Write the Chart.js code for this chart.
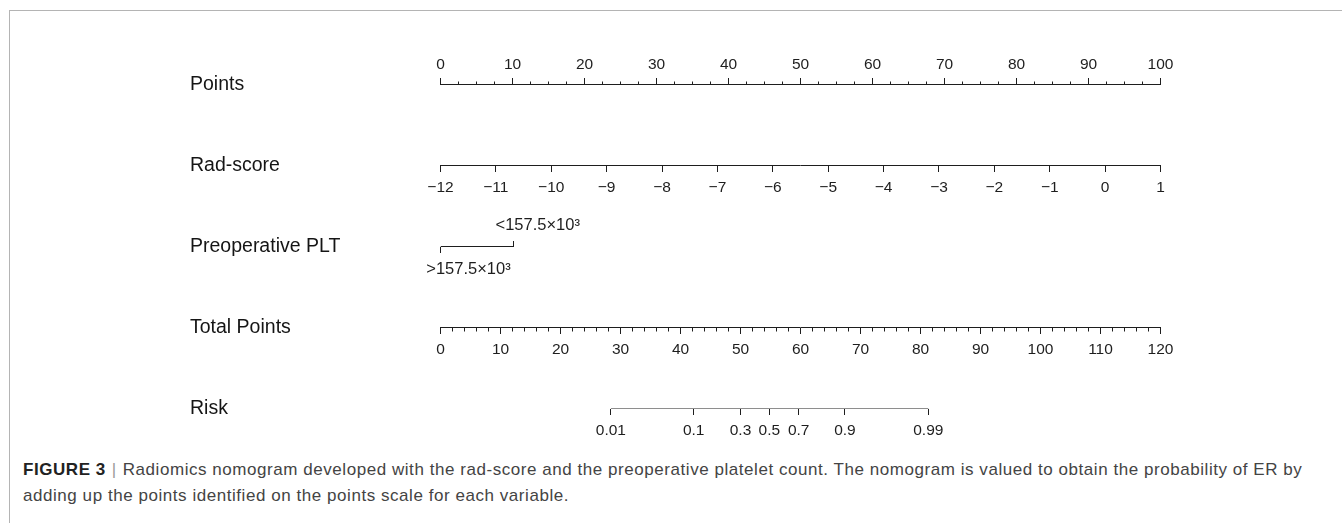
<!DOCTYPE html>
<html>
<head>
<meta charset="utf-8">
<script src="https://cdn.jsdelivr.net/npm/chart.js@4.4.0/dist/chart.umd.min.js"></script>
<style>
  html, body { margin: 0; padding: 0; background: #fff; }
  body { width: 1342px; height: 523px; position: relative; overflow: hidden; font-family: 'Liberation Sans', Arial, sans-serif; }
  .frame { position: absolute; left: 9px; top: 10px; right: -2px; bottom: -2px; border-top: 1px solid #b4b4b4; border-left: 1px solid #b4b4b4; }
  .wrap { position: absolute; left: 0; top: 0; width: 1342px; height: 445px; }
  .caption { position: absolute; left: 23px; top: 457px; font-size: 17px; line-height: 26px; color: #444; white-space: nowrap; letter-spacing: .55px; }
  .caption b { color: #222; }
  .caption .bar { color: #999; margin: 0 6px; }
</style>
</head>
<body>
<div class="frame"></div>
<div class="wrap"><canvas id="nomo"></canvas></div>
<div class="caption"><b>FIGURE 3</b><span class="bar">|</span>Radiomics nomogram developed with the rad-score and the preoperative platelet count. The nomogram is valued to obtain the probability of ER by<br>adding up the points identified on the points scale for each variable.</div>
<script>
// 행 이름
const ROWS = ['Points', 'Rad-score', 'Preoperative PLT', 'Total Points', 'Risk'];

// 눈금 값
const POINT_TICKS = [0, 10, 20, 30, 40, 50, 60, 70, 80, 90, 100];
const RAD_TICKS = [-12, -11, -10, -9, -8, -7, -6, -5, -4, -3, -2, -1, 0, 1];
const PLT_LEVELS = ['>157.5×10³', '<157.5×10³'];
const PLT_POINTS = [0, 10.1];
const TOTAL_TICKS = [0, 10, 20, 30, 40, 50, 60, 70, 80, 90, 100, 110, 120];
const RISK_LABELS = ['0.01', '0.1', '0.3', '0.5', '0.7', '0.9', '0.99'];
const RISK_AT = [28.4, 42.2, 50.0, 54.8, 59.7, 67.4, 81.3]; // total points

const INK = '#1e1e1e';
Chart.defaults.font.family = "'Liberation Sans', Arial, sans-serif";

// 가로축 하나 (행 위치에 붙임)
function axis(row, min, max, o) {
  return {
    type: 'linear', axis: 'x', min, max,
    position: { y: row },
    afterBuildTicks: o.values ? (s) => { s.ticks = o.values.map((v) => ({ value: v })); } : undefined,
    grid: { display: true, drawOnChartArea: false, color: INK, lineWidth: 1, tickLength: o.tl },
    border: { display: !!o.border, color: INK, width: 1 },
    ticks: {
      display: !!o.labels, stepSize: o.step, autoSkip: false, maxRotation: 0,
      color: INK, font: { size: o.size || 15.5 }, padding: o.pad || 0, labelOffset: o.off || 0,
      callback: o.labels || (() => ''),
    },
  };
}

const minus = (v) => (v < 0 ? '\u2212' + Math.abs(v) : String(v));

new Chart(document.getElementById('nomo'), {
  type: 'scatter',
  data: {
    datasets: [
      { data: PLT_POINTS.map((v) => ({ x: v, y: 2 })), xAxisID: 'plt', yAxisID: 'y' },
      { data: [RISK_AT[0], RISK_AT[RISK_AT.length - 1]].map((v) => ({ x: v, y: 4 })), xAxisID: 'risk', yAxisID: 'y' },
    ].map((d) => Object.assign(d, { showLine: true, borderColor: INK, borderWidth: 1, pointRadius: 0 })),
  },
  options: {
    responsive: true, maintainAspectRatio: false, animation: false,
    layout: { padding: { left: 190, right: 181.5, top: 84.5, bottom: 36.5 } },
    plugins: { legend: { display: false }, tooltip: { enabled: false } },
    scales: {
      y: {
        type: 'linear', position: 'left', min: 0, max: 4, reverse: true,
        afterBuildTicks: (s) => { s.ticks = ROWS.map((_, i) => ({ value: i })); },
        afterFit: (s) => { s.width = 250.5; },
        grid: { display: false }, border: { display: false },
        ticks: { crossAlign: 'far', padding: 0, color: '#151515', font: { size: 19.5 }, callback: (v) => ROWS[v] },
      },
      pts: axis(0, 0, 100, { values: POINT_TICKS, tl: -7, border: true, pad: -22.5, labels: (v) => v }),
      ptsMinor: axis(0, 0, 100, { step: 2.5, tl: -3.5 }),
      rad: axis(1, -12, 1, { values: RAD_TICKS, tl: 6, border: true, pad: 7, labels: minus }),
      plt: axis(2, 0, 100, { values: [PLT_POINTS[0]], tl: 6, pad: 7, off: 28, size: 16.5, labels: () => PLT_LEVELS[0] }),
      pltHi: axis(2, 0, 100, { values: [PLT_POINTS[1]], tl: -6, pad: -25, off: 24.5, size: 16.5, labels: () => PLT_LEVELS[1] }),
      tot: axis(3, 0, 120, { values: TOTAL_TICKS, tl: 6, border: true, pad: 6.5, labels: (v) => v }),
      totMinor: axis(3, 0, 120, { step: 2, tl: 3.5 }),
      risk: axis(4, 0, 120, { values: RISK_AT, tl: 6, pad: 6.7, labels: (v, i) => RISK_LABELS[i] }),
    },
  },
});
</script>
</body>
</html>
